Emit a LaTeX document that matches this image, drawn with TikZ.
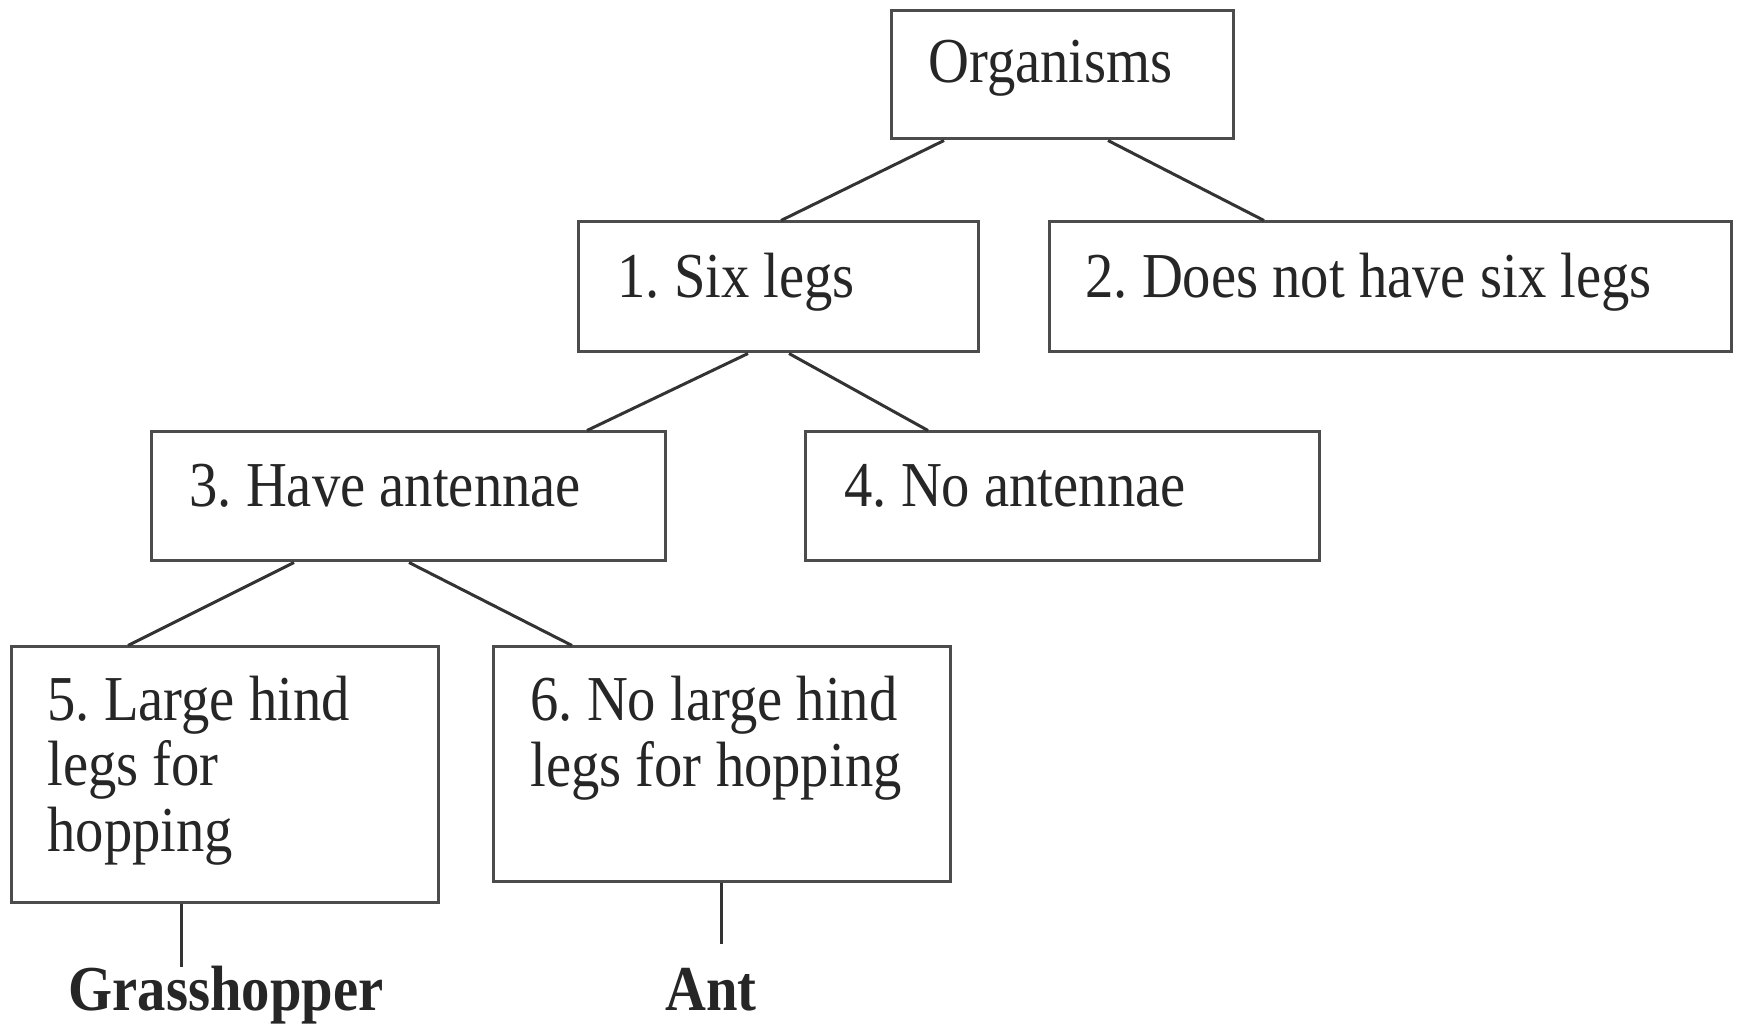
\documentclass[tikz,border=0pt]{standalone}
\usepackage{fontspec}
\setmainfont{Liberation Serif}[FakeStretch=0.885]
\begin{document}
\frenchspacing
\begin{tikzpicture}[x=0.5pt,y=-0.5pt,
  box/.style={draw=black!70,line width=1.5pt,inner sep=0pt,rectangle},
  lbl/.style={anchor=base west,inner sep=0pt,text=black!85,font=\fontsize{32}{32.75}\selectfont,align=left},
  leaf/.style={anchor=base,inner sep=0pt,text=black!85,font=\fontsize{32}{32.75}\selectfont\bfseries},
  conn/.style={draw=black!80,line width=1.5pt}]
\useasboundingbox (0,0) rectangle (1742,1026);
\fill[white] (0,0) rectangle (1742,1026);
% boxes
\node[box,minimum width=171pt,minimum height=64pt] (org) at (1062,75) {};
\node[box,minimum width=200pt,minimum height=65pt] (six) at (778,287) {};
\node[box,minimum width=341pt,minimum height=65pt] (nosix) at (1390,287) {};
\node[box,minimum width=257pt,minimum height=64.5pt] (ant) at (408,496.5) {};
\node[box,minimum width=257pt,minimum height=64.5pt] (noant) at (1062,496.5) {};
\node[box,minimum width=213.5pt,minimum height=127.5pt] (b5) at (224.5,774.5) {};
\node[box,minimum width=228.5pt,minimum height=117pt] (b6) at (721.5,764) {};
% texts
\node[lbl] (torg) at (928,83) {Organisms};
\node[lbl] (tsix) at (617,298) {1. Six legs};
\node[lbl] (tnosix) at (1085,298) {2. Does not have six legs};
\node[lbl] (tant) at (189,507) {3. Have antennae};
\node[lbl] (tnoant) at (844,507) {4. No antennae};
\node[lbl] (tb5) at (47,851) {5. Large hind\\legs for\\hopping};
\node[lbl] (tb6) at (530,786) {6. No large hind\\legs for hopping};
\node[leaf] (grass) at (226,1010) {Grasshopper};
\node[leaf] (antl) at (711,1010) {Ant};
\coordinate (g1) at (181,967);
\coordinate (a1) at (721,944);
% connectors
\draw[conn] ([xshift=-59pt]org.south) -- ([xshift=1.5pt]six.north);
\draw[conn] ([xshift=23pt]org.south) -- ([xshift=-63pt]nosix.north);
\draw[conn] ([xshift=-15pt]six.south) -- ([xshift=89.5pt]ant.north);
\draw[conn] ([xshift=5.5pt]six.south) -- ([xshift=-67pt]noant.north);
\draw[conn] ([xshift=-57pt]ant.south) -- ([xshift=-48.25pt]b5.north);
\draw[conn] ([xshift=0.5pt]ant.south) -- ([xshift=-74.75pt]b6.north);
\draw[conn] (b5.south -| g1) -- (g1);
\draw[conn] (b6.south -| a1) -- (a1);
\end{tikzpicture}
\end{document}
